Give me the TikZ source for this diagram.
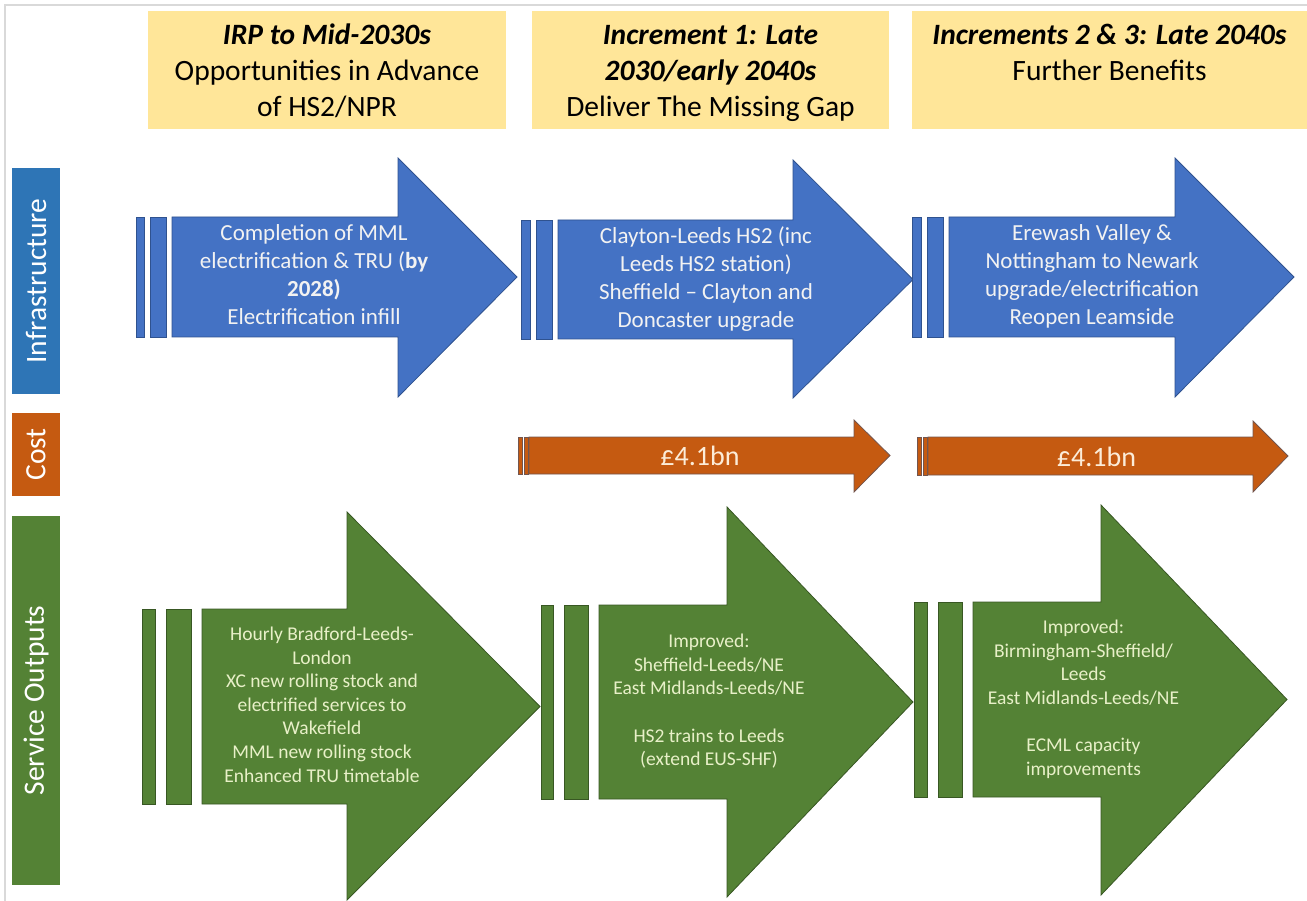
\documentclass[tikz,border=0pt]{standalone}
\usepackage{fontspec}
\setmainfont{Carlito}
\definecolor{hdr}{RGB}{255,230,153}
\definecolor{blueA}{RGB}{68,114,196}
\definecolor{blueL}{RGB}{47,82,143}
\definecolor{infra}{RGB}{46,117,182}
\definecolor{orangeA}{RGB}{197,90,17}
\definecolor{orangeL}{RGB}{115,85,78}
\definecolor{greenA}{RGB}{84,130,53}
\definecolor{greenL}{RGB}{56,87,35}
\definecolor{framegray}{RGB}{217,217,217}
\definecolor{bluetext}{RGB}{242,242,242}
\definecolor{greentext}{RGB}{232,240,200}
\definecolor{costtext}{RGB}{252,236,216}
% #1 style, #2 body left, #3 head base, #4 tip, #5 shaft top, #6 shaft bottom, #7 head top, #8 head bottom
\newcommand{\myarrow}[8]{\draw[#1] (#2,#5) -- (#3,#5) -- (#3,#7) -- (#4,{(#5+#6)/2}) -- (#3,#8) -- (#3,#6) -- (#2,#6) -- cycle;}
\begin{document}
\begin{tikzpicture}[x=1pt,y=-1pt,
  blueshape/.style={fill=blueA, draw=blueL, line width=0.8pt},
  costshape/.style={fill=orangeA, draw=orangeL, line width=0.8pt},
  greenshape/.style={fill=greenA, draw=greenL, line width=0.8pt},
  hdrtext/.style={anchor=north, inner sep=0pt, align=center, font=\fontsize{29.5}{36}\selectfont},
  rowlabel/.style={rotate=90, text=white, inner sep=0pt, font=\fontsize{29.5}{36}\selectfont},
  bluetxt/.style={text=bluetext, align=center, inner sep=0pt, font=\fontsize{23}{28}\selectfont},
  greentxt/.style={text=greentext, align=center, inner sep=0pt, font=\fontsize{19.5}{23.6}\selectfont},
  costtxt/.style={text=costtext, inner sep=0pt, font=\fontsize{28}{34}\selectfont}]
\useasboundingbox (0,0) rectangle (1307,901);
\fill[white] (0,0) rectangle (1307,901);
\draw[framegray, line width=1.8pt] (5,901) -- (5,5) -- (1307,5);

% header boxes
\fill[hdr] (148,11) rectangle (506,129);
\fill[hdr] (532,11) rectangle (889,129);
\fill[hdr] (912,11) rectangle (1307,129);
\node[hdrtext] (h1) at (327,18.8) {\strut\textbf{\textit{IRP to Mid-2030s}}\\ \strut Opportunities in Advance\\ \strut of HS2/NPR};
\node[hdrtext] (h2) at (710.5,18.8) {\strut\textbf{\textit{Increment 1: Late}}\\ \strut\textbf{\textit{2030/early 2040s}}\\ \strut Deliver The Missing Gap};
\node[hdrtext] (h3) at (1109.5,18.8) {\strut\textbf{\textit{Increments 2 \& 3: Late 2040s}}\\ \strut Further Benefits};

% row labels
\fill[infra] (12,168) rectangle (60,394);
\fill[orangeA] (12,413) rectangle (60,496);
\fill[greenA] (12,516) rectangle (60,885);
\node[rowlabel] (linfra) at (36,281) {Infrastructure};
\node[rowlabel] (lcost) at (36,454.5) {Cost};
\node[rowlabel] (lserv) at (36,700.5) {Service Outputs};

% infrastructure arrows
\draw[blueshape] (136,217) rectangle (144,337);
\draw[blueshape] (150,217) rectangle (166,337);
\myarrow{blueshape}{172}{398}{517}{217}{337}{158}{397}
\draw[blueshape] (521,220) rectangle (530,339);
\draw[blueshape] (536,220) rectangle (552,339);
\myarrow{blueshape}{558}{793}{913}{220}{339}{160}{398}
\draw[blueshape] (912,217) rectangle (921,337);
\draw[blueshape] (927,217) rectangle (943,337);
\myarrow{blueshape}{949}{1175}{1294}{217}{337}{158}{397}
\node[bluetxt] (b1) at (314,277) {\strut Completion of MML\\ \strut electrification \& TRU (\textbf{by}\\ \strut\textbf{2028)}\\ \strut Electrification infill};
\node[bluetxt] (b2) at (706,279.5) {\strut Clayton-Leeds HS2 (inc\\ \strut Leeds HS2 station)\\ \strut Sheffield -- Clayton and\\ \strut Doncaster upgrade};
\node[bluetxt] (b3) at (1092,277) {\strut Erewash Valley \&\\ \strut Nottingham to Newark\\ \strut upgrade/electrification\\ \strut Reopen Leamside};

% cost arrows
\draw[costshape] (518,437) rectangle (522,474);
\draw[costshape] (524,437) rectangle (528,474);
\myarrow{costshape}{529}{854}{890}{437}{474}{420}{492}
\draw[costshape] (917,437) rectangle (921,475);
\draw[costshape] (923,437) rectangle (927,475);
\myarrow{costshape}{928}{1253}{1288}{437}{475}{421}{492}
\node[costtxt] (c1) at (700,456) {£4.1bn};
\node[costtxt] (c2) at (1096.5,457) {£4.1bn};

% service output arrows
\draw[greenshape] (142,609) rectangle (155,804);
\draw[greenshape] (166,609) rectangle (191,804);
\myarrow{greenshape}{202}{347}{540}{609}{804}{512}{900}
\draw[greenshape] (541,605) rectangle (553,799);
\draw[greenshape] (564,605) rectangle (588,799);
\myarrow{greenshape}{599}{727}{913}{605}{799}{507}{897}
\draw[greenshape] (914,602) rectangle (927,797);
\draw[greenshape] (938,602) rectangle (962,797);
\myarrow{greenshape}{973}{1101}{1287}{602}{797}{505}{895}
\node[greentxt] (g1) at (322,706.5) {\strut Hourly Bradford-Leeds-\\ \strut London\\ \strut XC new rolling stock and\\ \strut electrified services to\\ \strut Wakefield\\ \strut MML new rolling stock\\ \strut Enhanced TRU timetable};
\node[greentxt] (g2) at (709,702) {\strut Improved:\\ \strut Sheffield-Leeds/NE\\ \strut East Midlands-Leeds/NE\\ \strut\\ \strut HS2 trains to Leeds\\ \strut (extend EUS-SHF)};
\node[greentxt] (g3) at (1083.5,699.5) {\strut Improved:\\ \strut Birmingham-Sheffield/\\ \strut Leeds\\ \strut East Midlands-Leeds/NE\\ \strut\\ \strut ECML capacity\\ \strut improvements};
\end{tikzpicture}
\end{document}
